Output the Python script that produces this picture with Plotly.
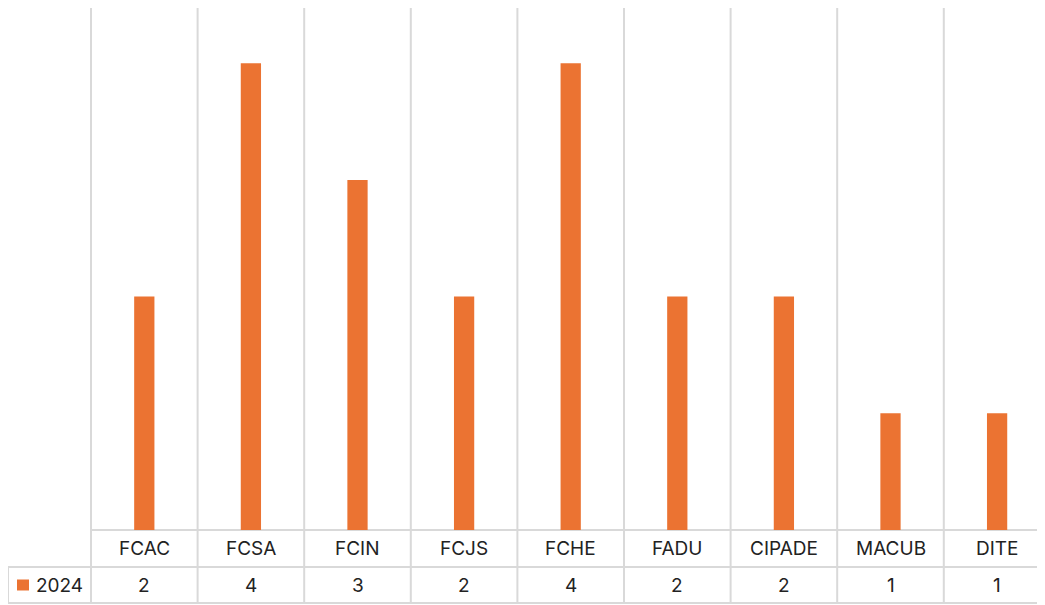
import plotly.graph_objects as go

categories = ["FCAC", "FCSA", "FCIN", "FCJS", "FCHE", "FADU", "CIPADE", "MACUB", "DITE"]
values_2024 = [2, 4, 3, 2, 4, 2, 2, 1, 1]
series_name = "2024"

W, H = 1045, 605
BAR_COLOR = "#EB7332"
GRID = "#D9D9D9"
TEXT = "#222222"
FONT = "Inter, Liberation Sans, Arial, sans-serif"

# page body margin offset (screenshot px -> figure px)
OFF = 8.0
# pixel geometry of the Excel-style plot area (screenshot coords)
x0_px, cat_px = 91.0, 106.6
y0_px, unit_px = 530.0, 116.7

def xd(px):
    return -0.5 + (px - x0_px) / cat_px

def yd(py):
    return (y0_px - py) / unit_px

n = len(categories)
idx = list(range(n))

fig = go.Figure()
fig.add_trace(go.Bar(x=idx, y=values_2024, name=series_name,
                     marker=dict(color=BAR_COLOR, line=dict(width=0)),
                     width=0.19, hoverinfo="x+y"))

shapes = []
top_y = yd(5)
row1_y = yd(567)
bot_y = yd(603)
right_x = xd(W + 40)
for i in range(n + 1):
    xb = i - 0.5
    shapes.append(dict(type="line", xref="x", yref="y", x0=xb, x1=xb, y0=top_y, y1=bot_y,
                       line=dict(color=GRID, width=2), layer="below"))
shapes.append(dict(type="line", xref="x", yref="y", x0=xd(8), x1=xd(8), y0=row1_y, y1=bot_y,
                   line=dict(color=GRID, width=2), layer="below"))
shapes.append(dict(type="line", xref="x", yref="y", x0=-0.5, x1=right_x, y0=0, y1=0,
                   line=dict(color=GRID, width=2), layer="below"))
for yy in (row1_y, bot_y):
    shapes.append(dict(type="line", xref="x", yref="y", x0=xd(8), x1=right_x, y0=yy, y1=yy,
                       line=dict(color=GRID, width=2), layer="below"))
shapes.append(dict(type="rect", xref="x", yref="y", x0=xd(17), x1=xd(29), y0=yd(579.5), y1=yd(590.5),
                   fillcolor=BAR_COLOR, line=dict(width=0)))

annotations = []
for i, (c, v) in enumerate(zip(categories, values_2024)):
    annotations.append(dict(x=i, y=yd(548.5), xref="x", yref="y", text=c, showarrow=False,
                            font=dict(family=FONT, size=19, color=TEXT), xanchor="center", yanchor="middle"))
    annotations.append(dict(x=i, y=yd(585.5), xref="x", yref="y", text=str(v), showarrow=False,
                            font=dict(family=FONT, size=19, color=TEXT), xanchor="center", yanchor="middle"))
annotations.append(dict(x=xd(34), y=yd(585.5), xref="x", yref="y", text=series_name, showarrow=False,
                        font=dict(family=FONT, size=19, color=TEXT), xanchor="left", yanchor="middle"))

fig.update_layout(
    width=W, height=H,
    margin=dict(l=0, r=0, t=0, b=0),
    paper_bgcolor="white", plot_bgcolor="white",
    showlegend=False,
    xaxis=dict(range=[xd(OFF), xd(W + OFF)], showgrid=False, zeroline=False, showticklabels=False,
               showline=False, fixedrange=True),
    yaxis=dict(range=[yd(H + OFF), yd(OFF)], showgrid=False, zeroline=False, showticklabels=False,
               showline=False, fixedrange=True),
    shapes=shapes, annotations=annotations,
)

fig.write_html("out.html")
